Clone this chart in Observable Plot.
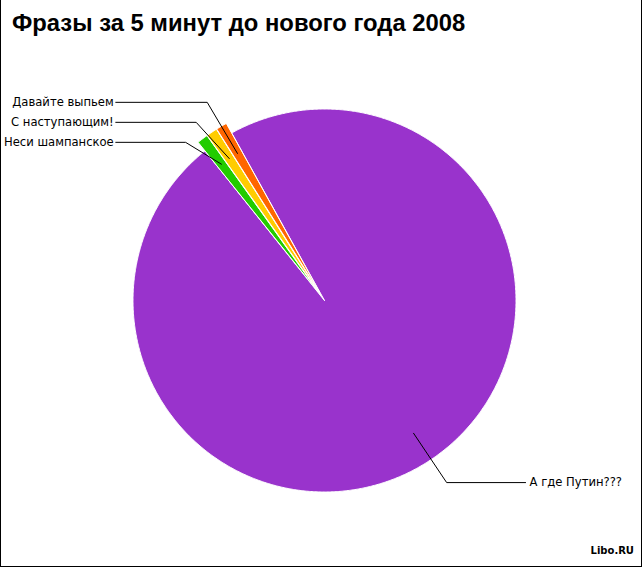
<!DOCTYPE html>
<html>
<head>
<meta charset="utf-8">
<script src="https://cdn.jsdelivr.net/npm/d3@7"></script>
<script src="https://cdn.jsdelivr.net/npm/@observablehq/plot@0.6"></script>
<style>
  html, body { margin: 0; padding: 0; background: #fff; }
  #wrap { position: relative; width: 642px; height: 567px; overflow: hidden; background: #fff; }
  #chart { position: absolute; left: 0; top: 0; }
  #title { position: absolute; left: 12px; top: 11px; font: bold 23.8px/23px "Liberation Sans", Arial, sans-serif; color: #000; white-space: nowrap; }
  #credit { position: absolute; right: 8px; top: 546px; font: bold 10px/10px "DejaVu Sans", Verdana, sans-serif; color: #000; }
  #border { position: absolute; left: 0; top: 0; width: 642px; height: 567px; box-sizing: border-box; border: 1px solid #000; border-top: none; pointer-events: none; }
</style>
</head>
<body>
<div id="wrap">
  <div id="chart"></div>
  <div id="title">Фразы за 5 минут до нового года 2008</div>
  <div id="credit">Libo.RU</div>
  <div id="border"></div>
</div>
<script>
// ---- data ----
const categories = ["А где Путин???", "Неси шампанское", "С наступающим!", "Давайте выпьем"];
const values = [97.3, 0.9, 0.9, 0.9];
const colors = ["#9933cc", "#22cc00", "#ffcc00", "#ff6600"];
const exploded = [false, true, true, true];

// ---- layout ----
const W = 642, H = 567;
const CX = 324, CY = 300, R = 191.5;          // pie centre & radius (px)
const startDeg = 331.0;                        // clockwise from 12 o'clock
const explodeU = 11 / R;                       // explode offset (units of radius)
const anchorR = 0.835, elbowR = 1.145;
const gapU = 20 / R;

const arcs = d3.pie().sort(null)
  .startAngle(startDeg * Math.PI / 180)
  .endAngle(startDeg * Math.PI / 180 + 2 * Math.PI)(values);

// slice polygons (unit circle, y up)
const polys = [];
arcs.forEach((a, i) => {
  const e = exploded[i] ? explodeU : 0;
  const mid = (a.startAngle + a.endAngle) / 2;
  const ox = e * Math.sin(mid), oy = e * Math.cos(mid);
  const name = categories[i];
  polys.push({name, x: ox, y: oy});
  const n = Math.max(2, Math.ceil((a.endAngle - a.startAngle) / (0.4 * Math.PI / 180)));
  for (let k = 0; k <= n; k++) {
    const t = a.startAngle + (a.endAngle - a.startAngle) * k / n;
    polys.push({name, x: ox + Math.sin(t), y: oy + Math.cos(t)});
  }
});

// labels with leader lines
const labels = arcs.map((a, i) => {
  const e = exploded[i] ? explodeU : 0;
  const mid = (a.startAngle + a.endAngle) / 2;
  const s = Math.sin(mid), c = Math.cos(mid);
  return {
    name: categories[i],
    side: s < 0 ? "left" : "right",
    ax: (anchorR + e) * s, ay: (anchorR + e) * c,
    ex: (elbowR + e) * s, ey: (elbowR + e) * c
  };
});
for (const side of ["left", "right"]) {
  const group = labels.filter(d => d.side === side).sort((p, q) => q.ey - p.ey);
  for (let k = 1; k < group.length; k++) {
    group[k].ey = Math.min(group[k].ey, group[k - 1].ey - gapU);
  }
}
labels.forEach(d => { d.tx = d.side === "left" ? -1.09 : 1.05; d.ty = d.ey; });
const leaders = labels.flatMap(d => [
  {name: d.name, x: d.ax, y: d.ay},
  {name: d.name, x: d.ex, y: d.ey},
  {name: d.name, x: d.tx, y: d.ty}
]);

const chart = Plot.plot({
  width: W, height: H,
  margin: 0,
  style: {background: "transparent", fontFamily: "'DejaVu Sans', Verdana, sans-serif", fontSize: "11.6px", color: "#000"},
  x: {domain: [-CX / R, (W - CX) / R], range: [0, W], axis: null},
  y: {domain: [-(H - CY) / R, CY / R], range: [H, 0], axis: null},
  color: {domain: categories, range: colors},
  marks: [
    Plot.line(polys, {x: "x", y: "y", z: "name", fill: "name", stroke: "white", strokeWidth: 1, curve: "linear-closed"}),
    Plot.line(leaders, {x: "x", y: "y", z: "name", stroke: "#000", strokeWidth: 1}),
    Plot.text(labels.filter(d => d.side === "left"), {x: "tx", y: "ty", text: "name", textAnchor: "end", dx: -2, fill: "#000", fontSize: 11.6}),
    Plot.text(labels.filter(d => d.side === "right"), {x: "tx", y: "ty", text: "name", textAnchor: "start", dx: 4, fill: "#000", fontSize: 11.6})
  ]
});
document.getElementById("chart").appendChild(chart);
</script>
</body>
</html>
